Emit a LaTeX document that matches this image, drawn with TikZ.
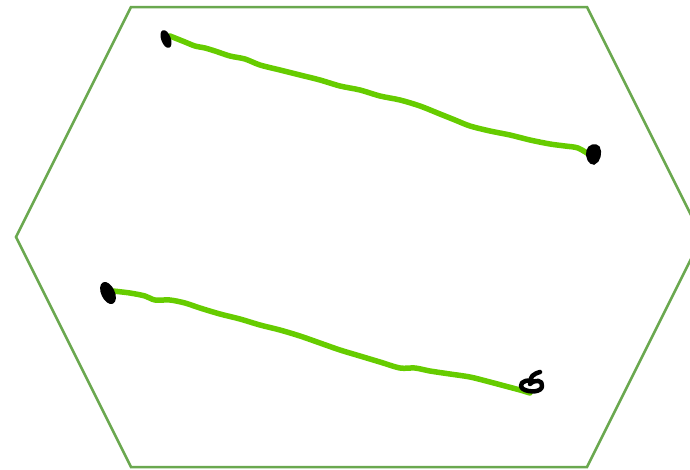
\documentclass[tikz,border=0pt]{standalone}
\usetikzlibrary{calc}
\definecolor{hexgreen}{RGB}{106,168,79}
\definecolor{strokegreen}{RGB}{102,204,0}
\tikzset{
  hexline/.style={draw=hexgreen,line width=2.5pt,line join=miter},
  stroke/.style={draw=strokegreen,line width=5.5pt,line cap=round,line join=round},
  blob/.style={fill=black,draw=black,line width=1.5pt}
}
\begin{document}
\begin{tikzpicture}[x=1pt,y=-1pt]
\useasboundingbox (0,0) rectangle (690,469);
\begin{scope}
\clip (0,0) rectangle (690,469);
\draw[hexline] (131,7) -- (587,7) -- (702,237) -- (587,467) -- (131,467) -- (16,237) -- cycle;
\end{scope}
% upper stroke
\coordinate (a1) at (170,36);
\coordinate (a2) at (590,155);
\draw[stroke] plot[smooth,tension=0.5] coordinates {(170,36) (185,42) (195,46) (205,48) (215,51) (230,56) (245,59) (260,65) (280,70) (300,75) (320,80) (340,86) (360,90) (380,96) (400,100) (420,106) (440,114) (455,120) (470,126) (490,131) (510,135) (530,140) (550,144) (565,146) (578,148) (590,155)};
% lower stroke
\coordinate (b1) at (113,291);
\coordinate (b2) at (530,393);
\draw[stroke] plot[smooth,tension=0.5] coordinates {(113,291) (130,293) (145,296) (155,300) (170,300) (185,303) (200,308) (220,314) (240,319) (260,325) (280,330) (300,336) (320,343) (340,350) (360,356) (380,362) (400,368) (415,368) (430,371) (450,374) (470,377) (490,382) (505,386) (520,390) (530,393)};
% blobs
\fill[blob,rotate around={20:(166,39)}] (166,39) ellipse (4 and 8.5);
\fill[blob] (587,151) .. controls (588,145) and (596,143) .. (599,147) .. controls (602,152) and (600,162) .. (594,164) .. controls (589,164) and (586,158) .. (587,151) -- cycle;
\fill[blob,rotate around={25:(108,293)}] (108,293) ellipse (6 and 11);
\draw[black,line width=4.5pt,line cap=round,line join=round] (540,372) .. controls (533,374) and (530,377) .. (531,381) .. controls (523,379) and (518,385) .. (523,389) .. controls (530,393) and (542,392) .. (542,386) .. controls (543,380) and (535,379) .. (530,384);
\end{tikzpicture}
\end{document}
